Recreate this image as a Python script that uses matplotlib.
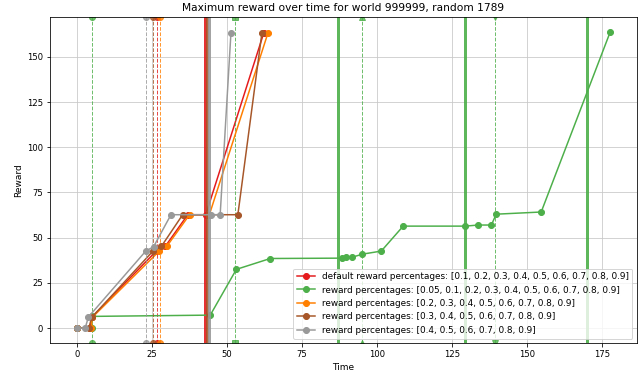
import matplotlib
matplotlib.use("Agg")
from matplotlib import pyplot as plt

# series data: time / max reward
default_t = [0, 4.5, 5.0, 26.5, 29.5, 37.0, 43.0, 62.3]
default_r = [0, 0, 6, 42.6, 45.2, 62.7, 62.7, 163]

p005_t = [0, 5.0, 5.2, 44.5, 53.2, 64.5, 88.5, 89.8, 91.8, 95.2, 101.5,
          108.8, 129.5, 133.8, 138.2, 139.8, 154.8, 177.8]
p005_r = [0, 0, 6.5, 7.2, 32.5, 38.5, 38.7, 39.2, 39.2, 40.9, 42.6,
          56.4, 56.4, 57, 57, 63, 64.2, 163.7]

p02_t = [0, 4.8, 5.2, 27.5, 30.0, 37.6, 44.2, 63.7]
p02_r = [0, 0, 6, 42.6, 45.2, 62.7, 62.7, 163]

p03_t = [0, 4.0, 5.0, 25.4, 28.2, 35.3, 53.7, 61.7]
p03_r = [0, 0, 6, 42.6, 45.2, 62.7, 62.7, 163]

p04_t = [0, 2.8, 3.9, 23.0, 25.6, 31.4, 44.7, 47.8, 51.4]
p04_r = [0, 0, 6.2, 42.6, 45.0, 62.7, 62.7, 62.7, 163.3]

labels = [
    "default reward percentages: [0.1, 0.2, 0.3, 0.4, 0.5, 0.6, 0.7, 0.8, 0.9]",
    "reward percentages: [0.05, 0.1, 0.2, 0.3, 0.4, 0.5, 0.6, 0.7, 0.8, 0.9]",
    "reward percentages: [0.2, 0.3, 0.4, 0.5, 0.6, 0.7, 0.8, 0.9]",
    "reward percentages: [0.3, 0.4, 0.5, 0.6, 0.7, 0.8, 0.9]",
    "reward percentages: [0.4, 0.5, 0.6, 0.7, 0.8, 0.9]",
]
colors = ['#e41a1c', '#4daf4a', '#ff7f00', '#a65628', '#999999']

# event times (dashed lines with markers) and solid marker lines
dashed_events = [
    [(26.8, 'o')],
    [(5.2, 'o'), (52.8, 's'), (95.2, '^'), (139.5, 'v')],
    [(27.6, 'o')],
    [(25.3, 'o')],
    [(23.0, 'o')],
]
solid_events = [[42.8], [87.2, 129.5, 170.2], [], [43.3], [44.2]]

times = [default_t, p005_t, p02_t, p03_t, p04_t]
rewards = [default_r, p005_r, p02_r, p03_r, p04_r]

fig = plt.figure(figsize=(642 / 72, 374 / 72), dpi=72)
ax = fig.add_subplot(111)

for t, r, lab, c, dev, sev in zip(times, rewards, labels, colors,
                                  dashed_events, solid_events):
    ax.plot(t, r, marker='o', c=c, label=lab, lw=1.5, markersize=6)
    for x, m in dev:
        ax.axvline(x, c=c, ls='--', lw=1, marker=m, alpha=0.8)
    for x in sev:
        ax.axvline(x, c=c, lw=3, alpha=0.9)

ax.grid(True, color='#c8c8c8')
ax.set_axisbelow(True)
ax.set_yticks([0, 25, 50, 75, 100, 125, 150])
ax.tick_params(axis='both', which='major', labelsize=8.5)
ax.set_title("Maximum reward over time for world 999999, random 1789", fontsize=10.6)
ax.set_xlabel("Time", fontsize=9)
ax.set_ylabel("Reward", fontsize=9)
ax.legend(loc='lower right', fontsize=8.9)

plt.subplots_adjust(left=0.078, right=0.992, top=0.954, bottom=0.083)
plt.savefig('out.png', dpi=72)
